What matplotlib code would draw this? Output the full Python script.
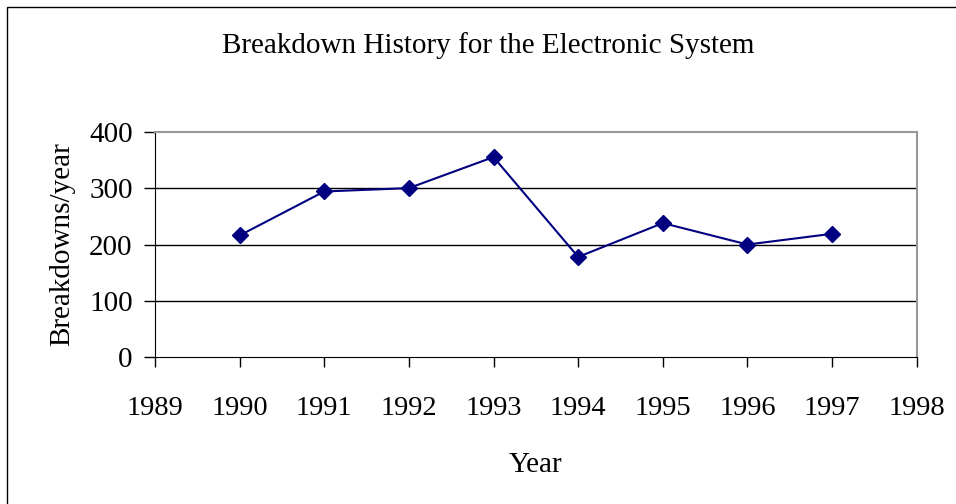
import matplotlib.pyplot as plt
from matplotlib.patches import Rectangle

# datos
years = [1990, 1991, 1992, 1993, 1994, 1995, 1996, 1997]
breakdowns = [216, 294, 300, 355, 178, 238, 200, 219]
x_ticks = list(range(1989, 1999))
y_ticks = [0, 100, 200, 300, 400]

plt.rcParams['font.family'] = ['Liberation Serif', 'DejaVu Serif']

fig = plt.figure(figsize=(9.56, 5.04), dpi=100)
ax = fig.add_axes([0.162, 0.291, 0.959 - 0.162, 0.7387 - 0.291])

ax.plot(years, breakdowns, color='#000080', linewidth=1.5,
        marker='D', markersize=8.5, markerfacecolor='#000080', markeredgecolor='#000080')

ax.set_xlim(1989, 1998)
ax.set_ylim(0, 400)
ax.set_xticks(x_ticks)
ax.set_yticks(y_ticks)
ax.tick_params(axis='x', direction='out', length=7, width=1, labelsize=20.5, pad=21)
ax.tick_params(axis='y', direction='out', length=8, width=1, labelsize=21, pad=8)

for v in [100, 200, 300]:
    ax.axhline(v, color='black', linewidth=1, zorder=0)

ax.spines['top'].set_color('#999999')
ax.spines['right'].set_color('#999999')
ax.spines['top'].set_linewidth(1.5)
ax.spines['right'].set_linewidth(1.5)
ax.spines['left'].set_color('black')
ax.spines['bottom'].set_color('black')

ax.set_xlabel('Year', fontsize=21, labelpad=22)
ax.set_ylabel('Breakdowns/year', fontsize=21, labelpad=10)
fig.text(0.511, 0.91, 'Breakdown History for the Electronic System',
         ha='center', va='center', fontsize=21)

# marco de la figura
fig.patches.append(Rectangle((7 / 956, -0.05), 1.2, 1 - 7 / 504 + 0.05,
                             transform=fig.transFigure, fill=False,
                             edgecolor='black', linewidth=1))

fig.savefig('out.png', dpi=100)
